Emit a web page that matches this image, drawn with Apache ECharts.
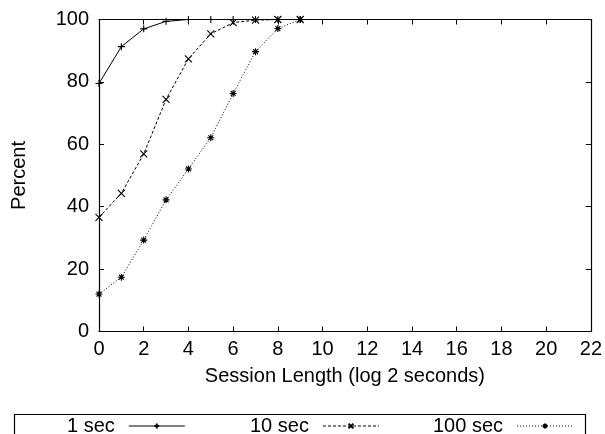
<!DOCTYPE html>
<html>
<head>
<meta charset="utf-8">
<script src="https://cdn.jsdelivr.net/npm/echarts@6/dist/echarts.min.js"></script>
<style>
  html, body { margin: 0; padding: 0; background: #fff; }
  #chart { width: 605px; height: 434px; }
</style>
</head>
<body>
<div id="chart"></div>
<script>
// Session length (log2 seconds) vs cumulative percent, for three timeouts
const sessionLength = [0, 1, 2, 3, 4, 5, 6, 7, 8, 9];
const oneSec     = [79.5, 91.3, 97.0, 99.4, 100, 100, 100, 100, 100, 100];
const tenSec     = [36.6, 44.3, 56.9, 74.4, 87.4, 95.4, 99.0, 99.8, 100, 100];
const hundredSec = [12.0, 17.4, 29.3, 42.2, 52.1, 62.1, 76.3, 89.7, 97.1, 100];
const seriesNames = ['1 sec', '10 sec', '100 sec'];

const FONT = 'Liberation Sans, Arial, sans-serif';
const FS = 20;

const plusPath = 'path://M0,5L10,5M5,0L5,10';
const crossPath = 'path://M1,1L9,9M9,1L1,9';
const starPath = 'path://M0,5L10,5M5,0L5,10M1.5,1.5L8.5,8.5M8.5,1.5L1.5,8.5';

function pairs(ys) {
  return sessionLength.map((x, i) => [x, ys[i]]);
}

function makeSeries(name, ys, symbol, lineType) {
  return {
    name: name,
    type: 'line',
    data: pairs(ys),
    symbol: symbol,
    symbolSize: 7,
    showAllSymbol: true,
    lineStyle: { color: '#000', width: 1, type: lineType },
    itemStyle: { color: 'transparent', borderColor: '#000', borderWidth: 1.1 },
    emphasis: { disabled: true },
    animation: false
  };
}

const axisLine = { show: true, onZero: false, lineStyle: { color: '#000', width: 1.2 } };
const tickStyle = { show: true, inside: true, length: 5, lineStyle: { color: '#000', width: 1 } };

const legendCommon = {
  orient: 'horizontal',
  align: 'right',
  padding: 0,
  itemWidth: 56,
  itemHeight: 6,
  lineStyle: { width: 1 },
  textStyle: { fontFamily: FONT, fontSize: FS, color: '#000', padding: [0, 9, 0, 0] },
  top: 416,
  selectedMode: false
};

const option = {
  backgroundColor: '#fff',
  animation: false,
  grid: { left: 99, right: 13, top: 19.5, bottom: 102.5, containLabel: false },
  xAxis: [
    {
      type: 'value', min: 0, max: 22, interval: 2,
      name: 'Session Length (log 2 seconds)',
      nameLocation: 'middle', nameGap: 35,
      nameTextStyle: { fontFamily: FONT, fontSize: FS, color: '#000' },
      axisLine: axisLine, axisTick: tickStyle,
      axisLabel: { fontFamily: FONT, fontSize: FS, color: '#000', margin: 8 },
      splitLine: { show: false }
    },
    {
      type: 'value', min: 0, max: 22, interval: 2, position: 'top',
      axisLine: axisLine, axisTick: tickStyle,
      axisLabel: { show: false }, splitLine: { show: false }
    }
  ],
  yAxis: [
    {
      type: 'value', min: 0, max: 100, interval: 20,
      name: 'Percent',
      nameLocation: 'middle', nameGap: 70, nameRotate: 90,
      nameTextStyle: { fontFamily: FONT, fontSize: FS, color: '#000' },
      axisLine: axisLine, axisTick: tickStyle,
      axisLabel: { fontFamily: FONT, fontSize: FS, color: '#000', margin: 10 },
      splitLine: { show: false }
    },
    {
      type: 'value', min: 0, max: 100, interval: 20, position: 'right',
      axisLine: axisLine, axisTick: tickStyle,
      axisLabel: { show: false }, splitLine: { show: false }
    }
  ],
  legend: [
    Object.assign({}, legendCommon, { data: [seriesNames[0]], left: 67 }),
    Object.assign({}, legendCommon, { data: [seriesNames[1]], left: 250 }),
    Object.assign({}, legendCommon, { data: [seriesNames[2]], left: 433 })
  ],
  graphic: [
    {
      type: 'rect',
      shape: { x: 14.5, y: 414.5, width: 571, height: 40 },
      style: { fill: 'none', stroke: '#000', lineWidth: 1.2 },
      z: -1
    }
  ],
  series: [
    makeSeries(seriesNames[0], oneSec, plusPath, 'solid'),
    makeSeries(seriesNames[1], tenSec, crossPath, [3, 2]),
    makeSeries(seriesNames[2], hundredSec, starPath, [1, 2])
  ]
};

const chart = echarts.init(document.getElementById('chart'), null, { renderer: 'canvas' });
chart.setOption(option);
</script>
</body>
</html>
